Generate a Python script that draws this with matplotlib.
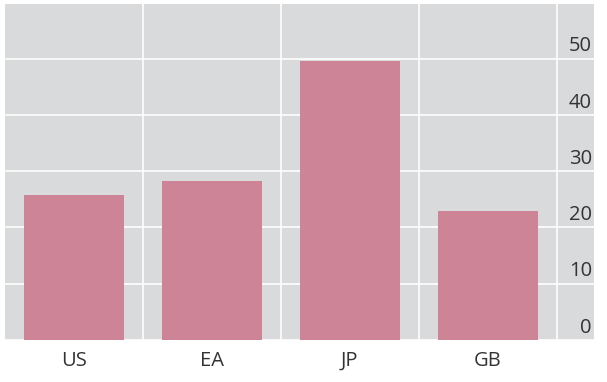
import matplotlib
matplotlib.use("Agg")
import matplotlib.pyplot as plt
import numpy as np

categories = ["US", "EA", "JP", "GB"]
values = [25.8, 28.2, 49.6, 22.9]
yticks = [0, 10, 20, 30, 40, 50]

plt.rcParams['font.family'] = ['Open Sans', 'DejaVu Sans']

fig = plt.figure(figsize=(6.07, 3.82), dpi=100)
ax = fig.add_axes([5/607, 1 - 340/382, (594-5)/607, (340-4)/382])
ax.set_facecolor('#d9dadc')
x = np.arange(len(categories))
ax.bar(x, values, width=0.725, color='#cd8497', zorder=3)
ax.set_xlim(-0.5, 3.77)
ax.set_ylim(0, 59.7)

for xv in np.arange(len(categories)) + 0.5:
    ax.axvline(xv, color='white', lw=1.2, zorder=1)
for yv in yticks:
    ax.axhline(yv, color='white', lw=1.2, zorder=1)
    ax.text(3.755, yv + 0.4, str(yv), ha='right', va='bottom', fontsize=14.5,
            color='#333333', zorder=4)

ax.set_xticks(x)
ax.set_xticklabels(categories, fontsize=14.5, color='#333333')
ax.tick_params(axis='x', length=0, pad=8)
ax.set_yticks([])
for s in ax.spines.values():
    s.set_visible(False)

fig.savefig("out.png", dpi=100, facecolor='white')
